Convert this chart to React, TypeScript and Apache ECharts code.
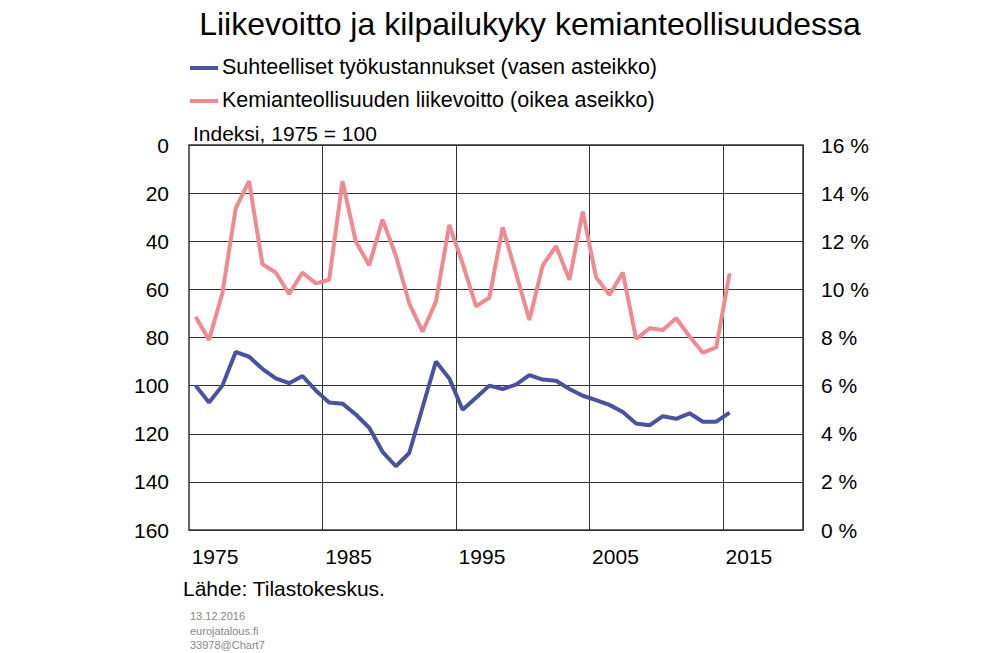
import React, { useEffect, useRef } from "react";
import * as echarts from "echarts";

const years: string[] = [];
for (let y = 1974; y <= 2019; y++) years.push(String(y));
const labelYears = ["1975", "1985", "1995", "2005", "2015"];
const laborCost = [100,107,100,86,88,93,97,99,96,102,107,107.5,112,117.5,127.5,133.5,128,109,90,97,110,105,100,
  101.4,99.6,95.6,97.5,98,101.4,104.2,106,108,111,115.7,116.5,112.7,113.8,111.5,115,115,111.2];
const profit = [8.86,7.9,9.84,13.37,14.5,11.05,10.7,9.81,10.7,10.25,10.4,14.5,11.98,11.0,12.9,11.4,9.42,8.24,9.49,12.68,11.08,9.3,9.65,
  12.58,10.67,8.73,11.0,11.8,10.4,13.23,10.5,9.77,10.7,7.94,8.38,8.31,8.8,8.04,7.37,7.59,10.67];
const BLUE = "#4a52a0", PINK = "#ee8a90";
const F = "Arial, 'Liberation Sans', sans-serif";

export default function App() {
  const ref = useRef<HTMLDivElement>(null);
  useEffect(() => {
    const c = echarts.init(ref.current!, null, { renderer: "svg" });
    const txt = (x: number, y: number, t: string, size: number, fill = "#000") => ({ type: "text", left: x, top: y, style: { text: t, fontSize: size, fill, fontFamily: F } });
    c.setOption({
      animation: false,
      title: { text: "Liikevoitto ja kilpailukyky kemianteollisuudessa", left: 525, textAlign: "center", top: 3, textStyle: { fontSize: 32, fontWeight: "normal", fontFamily: F, color: "#000" } },
      graphic: [
        { type: "line", shape: { x1: 190, y1: 68, x2: 218, y2: 68 }, style: { stroke: BLUE, lineWidth: 4 } },
        txt(222, 56, "Suhteelliset työkustannukset (vasen asteikko)", 21.5),
        { type: "line", shape: { x1: 190, y1: 101, x2: 218, y2: 101 }, style: { stroke: PINK, lineWidth: 4 } },
        txt(222, 89, "Kemianteollisuuden liikevoitto (oikea aseikko)", 21.5),
        txt(193, 123, "Indeksi, 1975 = 100", 21),
        txt(183, 578, "Lähde: Tilastokeskus.", 21),
        txt(190, 610, "13.12.2016", 11, "#888"),
        txt(190, 625, "eurojatalous.fi", 11, "#888"),
        txt(190, 639, "33978@Chart7", 11, "#888"),
      ],
      grid: { left: 189, right: 197, top: 145, bottom: 123, show: true, borderColor: "#333", borderWidth: 1.5 },
      xAxis: {
        type: "category", data: years, boundaryGap: true,
        axisLine: { show: false }, axisTick: { show: false },
        axisLabel: { interval: (i: number, v: string) => labelYears.includes(v), fontSize: 21, fontFamily: F, color: "#000", margin: 16, padding: [0, 0, 0, 12] },
        splitLine: { show: true, interval: (i: number) => i % 10 === 0 && i > 0, lineStyle: { color: "#333", width: 1 } },
      },
      yAxis: [
        { type: "value", inverse: true, min: 0, max: 160, interval: 20, axisLine: { show: false }, axisTick: { show: false },
          axisLabel: { fontSize: 21, fontFamily: F, color: "#000", margin: 20 }, splitLine: { lineStyle: { color: "#333", width: 1 } } },
        { type: "value", min: 0, max: 16, interval: 2, axisLine: { show: false }, axisTick: { show: false },
          axisLabel: { fontSize: 21, fontFamily: F, color: "#000", margin: 18, formatter: "{value} %" }, splitLine: { show: false } },
      ],
      series: [
        { type: "line", data: laborCost, yAxisIndex: 0, symbol: "none", lineStyle: { color: BLUE, width: 4 } },
        { type: "line", data: profit, yAxisIndex: 1, symbol: "none", lineStyle: { color: PINK, width: 4 } },
      ],
    });
    return () => c.dispose();
  }, []);
  return <div ref={ref} style={{ width: 1000, height: 653, position: "absolute", left: 0, top: 0 }} />;
}
